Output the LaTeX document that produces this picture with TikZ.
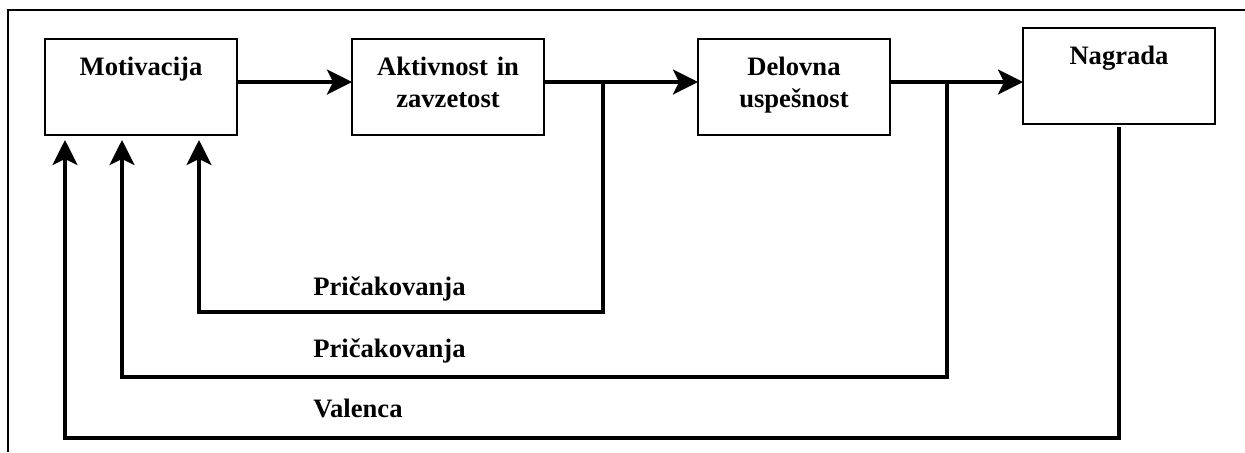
\documentclass[tikz,border=0pt]{standalone}
\usepackage{fontspec}
\setmainfont{Liberation Serif}
\usetikzlibrary{arrows.meta, positioning, calc}

\begin{document}
\begin{tikzpicture}[
    x=0.5pt, y=-0.5pt,
    % process boxes (text sits at the top)
    box/.style={rectangle, draw=black, line width=1pt, text width=96pt,
                inner xsep=0pt, inner ysep=0pt, outer sep=0pt,
                text height=18pt, text depth=30pt, align=center,
                font=\fontsize{13.3}{16}\selectfont\bfseries},
    arrow/.style={-{Stealth[length=12.5pt, width=12.5pt, inset=3pt]}, line width=1.6pt},
    fback/.style={arrow, shorten >=2.5pt},
    lbl/.style={anchor=base west, inner sep=0pt,
                font=\fontsize{13.3}{16}\selectfont\bfseries}
]
\useasboundingbox (0,0) rectangle (1245,452);

%-------- FRAME --------
\draw[line width=1.3pt] (8,452) -- (8,10) -- (1245,10);

%-------- BOXES --------
\node[box, anchor=north west] (motiv) at (45,39) {Motivacija};
\node[box, right=57.5pt of motiv] (aktiv) {Aktivnost in\\zavzetost};
\node[box, right=77pt of aktiv] (delov) {Delovna\\uspešnost};
\node[box, right=66.5pt of delov, yshift=5.5pt] (nagr) {Nagrada};

%-------- ARROWS: main flow --------
\draw[arrow] ($(motiv.east)+(0,-5)$) -- ($(aktiv.west)+(0,-5)$);
\draw[arrow] ($(aktiv.east)+(0,-5)$) -- ($(delov.west)+(0,-5)$);
\draw[arrow] ($(delov.east)+(0,-5)$) -- ($(nagr.west)+(0,6)$);

%-------- ARROWS: feedback --------
\coordinate (j1) at ($(aktiv.east)+(59,-5)$);
\coordinate (j2) at ($(delov.east)+(57,-5)$);
\draw[fback] (j1) -- ++(0,230) -| ($(motiv.south west)+(154,0)$);
\draw[fback] (j2) -- ++(0,295) -| ($(motiv.south west)+(77,0)$);
\draw[fback] ($(nagr.south)+(0,3)$) -- ++(0,311) -| ($(motiv.south west)+(20,0)$);

%-------- LABELS --------
\node[lbl] (exp1) at (313,295) {Pričakovanja};
\node[lbl] (exp2) at (313,357) {Pričakovanja};
\node[lbl] (val)  at (313,417) {Valenca};

\end{tikzpicture}
\end{document}
